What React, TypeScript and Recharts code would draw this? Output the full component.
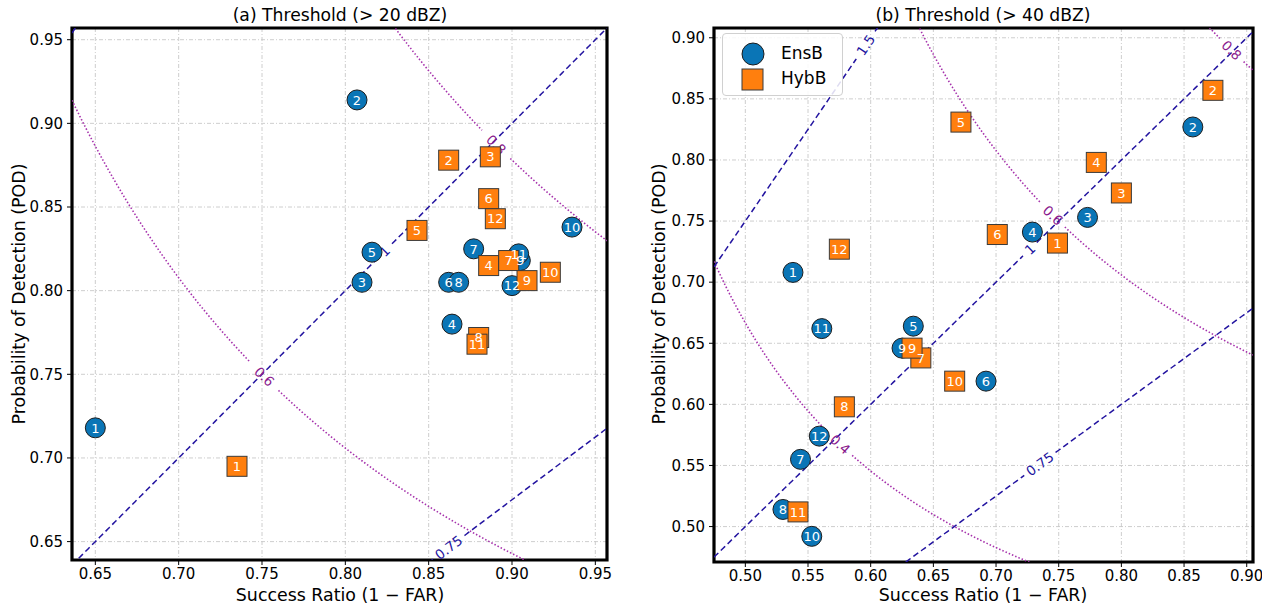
import React from 'react';
import { ComposedChart, Scatter, Line, XAxis, YAxis, CartesianGrid, ReferenceArea } from 'recharts';

const FONT = '"DejaVu Sans", Verdana, sans-serif';
const BLUE = '#0a75b6';
const ORANGE = '#ff7f0e';
const BIAS_COLOR = '#2314a0';
const CSI_COLOR = '#a632ac';
const CSI_TEXT = '#8a1a8e';

// ensemble member numbers
const members = [1, 2, 3, 4, 5, 6, 7, 8, 9, 10, 11, 12];

// (a) Threshold > 20 dBZ
const ensbA_sr = [0.650, 0.807, 0.810, 0.864, 0.816, 0.862, 0.877, 0.868, 0.905, 0.936, 0.904, 0.900];
const ensbA_pod = [0.718, 0.914, 0.805, 0.780, 0.823, 0.805, 0.825, 0.805, 0.818, 0.838, 0.822, 0.803];
const hybbA_sr = [0.735, 0.862, 0.887, 0.886, 0.843, 0.886, 0.898, 0.880, 0.909, 0.923, 0.879, 0.890];
const hybbA_pod = [0.695, 0.878, 0.880, 0.815, 0.836, 0.855, 0.818, 0.772, 0.806, 0.811, 0.768, 0.843];

// (b) Threshold > 40 dBZ
const ensbB_sr = [0.538, 0.857, 0.773, 0.729, 0.634, 0.692, 0.544, 0.530, 0.625, 0.553, 0.561, 0.559];
const ensbB_pod = [0.708, 0.827, 0.753, 0.741, 0.664, 0.619, 0.555, 0.514, 0.646, 0.492, 0.662, 0.574];
const hybbB_sr = [0.749, 0.873, 0.800, 0.780, 0.672, 0.701, 0.640, 0.579, 0.633, 0.667, 0.542, 0.575];
const hybbB_pod = [0.732, 0.857, 0.773, 0.798, 0.831, 0.739, 0.638, 0.598, 0.646, 0.619, 0.512, 0.727];

// reference contours
const csiLevels = [0.2, 0.4, 0.6, 0.8];
const biasLevels = [0.5, 0.75, 1, 1.5, 2];

// axis ticks
const ticksA = [0.65, 0.70, 0.75, 0.80, 0.85, 0.90, 0.95];
const ticksBx = [0.50, 0.55, 0.60, 0.65, 0.70, 0.75, 0.80, 0.85, 0.90];
const ticksBy = [0.50, 0.55, 0.60, 0.65, 0.70, 0.75, 0.80, 0.85, 0.90];

type LabelSpec = { level: number; sr: number; gap: number; angle: number };

const csiLabelsA: LabelSpec[] = [
  { level: 0.6, sr: 0.7514, gap: 0.0085, angle: 44 },
  { level: 0.8, sr: 0.8905, gap: 0.0085, angle: 45 },
];
const biasLabelsA: LabelSpec[] = [
  { level: 1, sr: 0.8235, gap: 0.0045, angle: -45 },
  { level: 0.75, sr: 0.862, gap: 0.0095, angle: -37 },
];
const csiLabelsB: LabelSpec[] = [
  { level: 0.4, sr: 0.5757, gap: 0.0095, angle: 42 },
  { level: 0.6, sr: 0.7454, gap: 0.0095, angle: 43 },
  { level: 0.8, sr: 0.888, gap: 0.0095, angle: 44 },
];
const biasLabelsB: LabelSpec[] = [
  { level: 1.5, sr: 0.596, gap: 0.0075, angle: -56 },
  { level: 1, sr: 0.727, gap: 0.0055, angle: -44 },
  { level: 0.75, sr: 0.735, gap: 0.0125, angle: -36 },
];

const csiFn = (c: number) => (sr: number) => {
  const d = 1 / c + 1 - 1 / sr;
  return d > 0 ? 1 / d : null;
};
const biasFn = (b: number) => (sr: number) => b * sr;

function sampleCurve(f: (x: number) => number | null, x0: number, x1: number, lab?: LabelSpec) {
  const xs: number[] = [];
  const N = 400;
  for (let i = 0; i <= N; i++) xs.push(x0 + ((x1 - x0) * i) / N);
  if (lab) xs.push(lab.sr - lab.gap, lab.sr + lab.gap, lab.sr);
  xs.sort((a, b) => a - b);
  return xs.map((x) => {
    let y = f(x);
    if (lab && x > lab.sr - lab.gap + 1e-9 && x < lab.sr + lab.gap - 1e-9) y = null;
    if (y == null || !isFinite(y) || y < 0 || y > 1.6) y = null;
    return { x, y };
  });
}

const fmt = (v: number) => v.toFixed(2);

const CircleShape = (p: any) => (
  <circle cx={p.cx} cy={p.cy} r={10} fill={BLUE} stroke="#1c1c1c" strokeWidth={1} />
);
const SquareShape = (p: any) => (
  <rect x={p.cx - 10} y={p.cy - 10} width={20} height={20} fill={ORANGE} stroke="#3a3a3a" strokeWidth={1} />
);
const NumShape = (p: any) => (
  <text x={p.cx} y={p.cy} dy="0.36em" textAnchor="middle" fill="#fff" fontSize={13} fontFamily={FONT}>
    {p.payload.label}
  </text>
);
const ContourLabelShape = (p: any) => (
  <text
    x={p.cx}
    y={p.cy}
    dy="0.36em"
    textAnchor="middle"
    fill={p.payload.color}
    fontSize={13.5}
    fontFamily={FONT}
    transform={`rotate(${p.payload.angle} ${p.cx} ${p.cy})`}
  >
    {p.payload.label}
  </text>
);

type PanelProps = {
  width: number;
  margin: { top: number; right: number; bottom: number; left: number };
  xDomain: [number, number];
  yDomain: [number, number];
  xTicks: number[];
  yTicks: number[];
  ensSr: number[];
  ensPod: number[];
  hybSr: number[];
  hybPod: number[];
  csiLabels: LabelSpec[];
  biasLabels: LabelSpec[];
};

function Panel(props: PanelProps) {
  const { xDomain, yDomain } = props;
  const ens = members.map((m, i) => ({ x: props.ensSr[i], y: props.ensPod[i], label: String(m) }));
  const hyb = members.map((m, i) => ({ x: props.hybSr[i], y: props.hybPod[i], label: String(m) }));
  const nums = [...ens, ...hyb];

  const csiCurves = csiLevels.map((c) => {
    const lab = props.csiLabels.find((l) => l.level === c);
    return { key: 'csi' + c, data: sampleCurve(csiFn(c), xDomain[0], xDomain[1], lab) };
  });
  const biasCurves = biasLevels.map((b) => {
    const lab = props.biasLabels.find((l) => l.level === b);
    return { key: 'bias' + b, data: sampleCurve(biasFn(b), xDomain[0], xDomain[1], lab) };
  });
  const contourLabels = [
    ...props.csiLabels.map((l) => ({ x: l.sr, y: csiFn(l.level)(l.sr), label: String(l.level), angle: l.angle, color: CSI_TEXT })),
    ...props.biasLabels.map((l) => ({ x: l.sr, y: biasFn(l.level)(l.sr), label: String(l.level), angle: l.angle, color: BIAS_COLOR })),
  ];

  return (
    <ComposedChart width={props.width} height={606} margin={props.margin}>
      <CartesianGrid stroke="#c8c8c8" strokeDasharray="4 2 1 2" strokeWidth={0.9} />
      <XAxis
        type="number"
        dataKey="x"
        domain={xDomain}
        allowDataOverflow
        ticks={props.xTicks}
        tickFormatter={fmt}
        axisLine={false}
        tickLine={{ stroke: '#000', strokeWidth: 1 }}
        tickSize={5}
        tickMargin={3}
        height={30}
        interval={0}
        tick={{ fill: '#000', fontSize: 15, fontFamily: FONT }}
      />
      <YAxis
        type="number"
        dataKey="y"
        domain={yDomain}
        allowDataOverflow
        ticks={props.yTicks}
        tickFormatter={fmt}
        axisLine={false}
        tickLine={{ stroke: '#000', strokeWidth: 1 }}
        tickSize={5}
        tickMargin={4}
        width={60}
        interval={0}
        tick={{ fill: '#000', fontSize: 15, fontFamily: FONT }}
      />
      {csiCurves.map((c) => (
        <Line
          key={c.key}
          data={c.data}
          dataKey="y"
          type="linear"
          stroke={CSI_COLOR}
          strokeWidth={1.6}
          strokeDasharray="1.5 2"
          dot={false}
          activeDot={false}
          isAnimationActive={false}
        />
      ))}
      {biasCurves.map((c) => (
        <Line
          key={c.key}
          data={c.data}
          dataKey="y"
          type="linear"
          stroke={BIAS_COLOR}
          strokeWidth={1.5}
          strokeDasharray="6 3.5"
          dot={false}
          activeDot={false}
          isAnimationActive={false}
        />
      ))}
      <Scatter data={contourLabels} shape={ContourLabelShape} isAnimationActive={false} />
      <Scatter data={ens} shape={CircleShape} isAnimationActive={false} />
      <Scatter data={hyb} shape={SquareShape} isAnimationActive={false} />
      <Scatter data={nums} shape={NumShape} isAnimationActive={false} />
      <ReferenceArea
        x1={xDomain[0]}
        x2={xDomain[1]}
        y1={yDomain[0]}
        y2={yDomain[1]}
        fill="none"
        fillOpacity={0}
        stroke="#000"
        strokeWidth={3.2}
        ifOverflow="visible"
      />
    </ComposedChart>
  );
}

const textBase: React.CSSProperties = {
  position: 'absolute',
  fontFamily: FONT,
  color: '#000',
  whiteSpace: 'nowrap',
  lineHeight: 1,
};

function Legend() {
  return (
    <div
      style={{
        position: 'absolute',
        left: 722,
        top: 33,
        width: 121,
        height: 63,
        border: '1px solid #d0d0d0',
        borderRadius: 4,
        background: 'rgba(255,255,255,0.85)',
        fontFamily: FONT,
        fontSize: 17,
        boxSizing: 'border-box',
      }}
    >
      <div style={{ position: 'absolute', left: 17, top: 7, width: 26, height: 26 }}>
        <svg width={26} height={26}>
          <circle cx={13} cy={13} r={11} fill={BLUE} stroke="#1c1c1c" strokeWidth={1} />
        </svg>
      </div>
      <div style={{ ...textBase, left: 58, top: 11 }}>EnsB</div>
      <div style={{ position: 'absolute', left: 17, top: 33, width: 26, height: 26 }}>
        <svg width={26} height={26}>
          <rect x={2} y={2} width={21} height={21} fill={ORANGE} stroke="#3a3a3a" strokeWidth={1} />
        </svg>
      </div>
      <div style={{ ...textBase, left: 58, top: 36 }}>HybB</div>
    </div>
  );
}

export default function App() {
  return (
    <div style={{ position: 'absolute', left: 0, top: 0, width: 1262, height: 606, background: '#fff', overflow: 'hidden' }}>
      <div style={{ position: 'absolute', left: 0, top: 0 }}>
        <Panel
          width={640}
          margin={{ top: 28, right: 33, bottom: 16, left: 12 }}
          xDomain={[0.636, 0.957]}
          yDomain={[0.639, 0.957]}
          xTicks={ticksA}
          yTicks={ticksA}
          ensSr={ensbA_sr}
          ensPod={ensbA_pod}
          hybSr={hybbA_sr}
          hybPod={hybbA_pod}
          csiLabels={csiLabelsA}
          biasLabels={biasLabelsA}
        />
      </div>
      <div style={{ position: 'absolute', left: 640, top: 0 }}>
        <Panel
          width={622}
          margin={{ top: 28, right: 9, bottom: 14, left: 14 }}
          xDomain={[0.475, 0.905]}
          yDomain={[0.471, 0.908]}
          xTicks={ticksBx}
          yTicks={ticksBy}
          ensSr={ensbB_sr}
          ensPod={ensbB_pod}
          hybSr={hybbB_sr}
          hybPod={hybbB_pod}
          csiLabels={csiLabelsB}
          biasLabels={biasLabelsB}
        />
      </div>
      <Legend />
      <div style={{ ...textBase, fontSize: 17.2, left: 340, top: 7, transform: 'translateX(-50%)' }}>(a) Threshold (&gt; 20 dBZ)</div>
      <div style={{ ...textBase, fontSize: 17.2, left: 983, top: 7, transform: 'translateX(-50%)' }}>(b) Threshold (&gt; 40 dBZ)</div>
      <div style={{ ...textBase, fontSize: 17.4, left: 340, top: 587, transform: 'translateX(-50%)' }}>Success Ratio (1 − FAR)</div>
      <div style={{ ...textBase, fontSize: 17.4, left: 983, top: 587, transform: 'translateX(-50%)' }}>Success Ratio (1 − FAR)</div>
      <div style={{ ...textBase, fontSize: 17.4, left: 20, top: 294, transform: 'translate(-50%, -50%) rotate(-90deg)' }}>
        Probability of Detection (POD)
      </div>
      <div style={{ ...textBase, fontSize: 17.4, left: 660, top: 294, transform: 'translate(-50%, -50%) rotate(-90deg)' }}>
        Probability of Detection (POD)
      </div>
    </div>
  );
}
